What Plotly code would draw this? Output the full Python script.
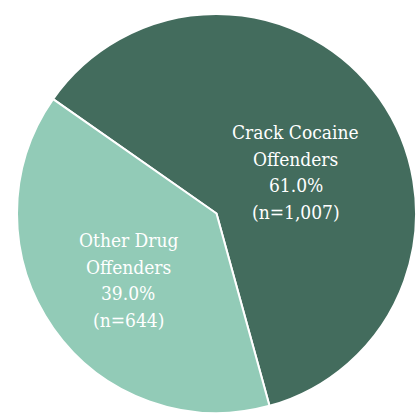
import plotly.graph_objects as go

labels = ["Crack Cocaine", "Other Drug"]
suffix = "Offenders"
shares = [61.0, 39.0]
counts = [1007, 644]
colors = ["#436c5d", "#92cbb7"]

# label block centres (paper coords, first line) and line step, by eye
label_pos = [(0.7064, 0.6804), (0.3055, 0.4189)]
line_step = 0.0642

fig = go.Figure(go.Pie(
    labels=labels,
    values=shares,
    sort=False,
    direction="clockwise",
    rotation=-55,
    marker=dict(colors=colors, line=dict(color="white", width=2)),
    textinfo="none",
    textposition="none",
    hoverinfo="label+percent",
    domain=dict(x=[17 / 419, 416 / 419], y=[0, 399 / 413]),
))

for lab, s, n, (x, y) in zip(labels, shares, counts, label_pos):
    lines = [lab, suffix, f"{s:.1f}%", f"(n={n:,})"]
    for k, t in enumerate(lines):
        fig.add_annotation(
            x=x, y=y - k * line_step, xref="paper", yref="paper",
            text=t, showarrow=False,
            font=dict(family="DejaVu Serif Condensed", size=19, color="white"),
            xanchor="center", yanchor="middle",
        )

fig.update_layout(
    width=419, height=413,
    margin=dict(l=0, r=0, t=0, b=0),
    showlegend=False,
    paper_bgcolor="white",
)

# drop the default 8px body margin so the figure fills the window
fig.write_html(
    "out.html",
    config={"displayModeBar": False},
    post_script="document.body.style.margin='0';",
)
